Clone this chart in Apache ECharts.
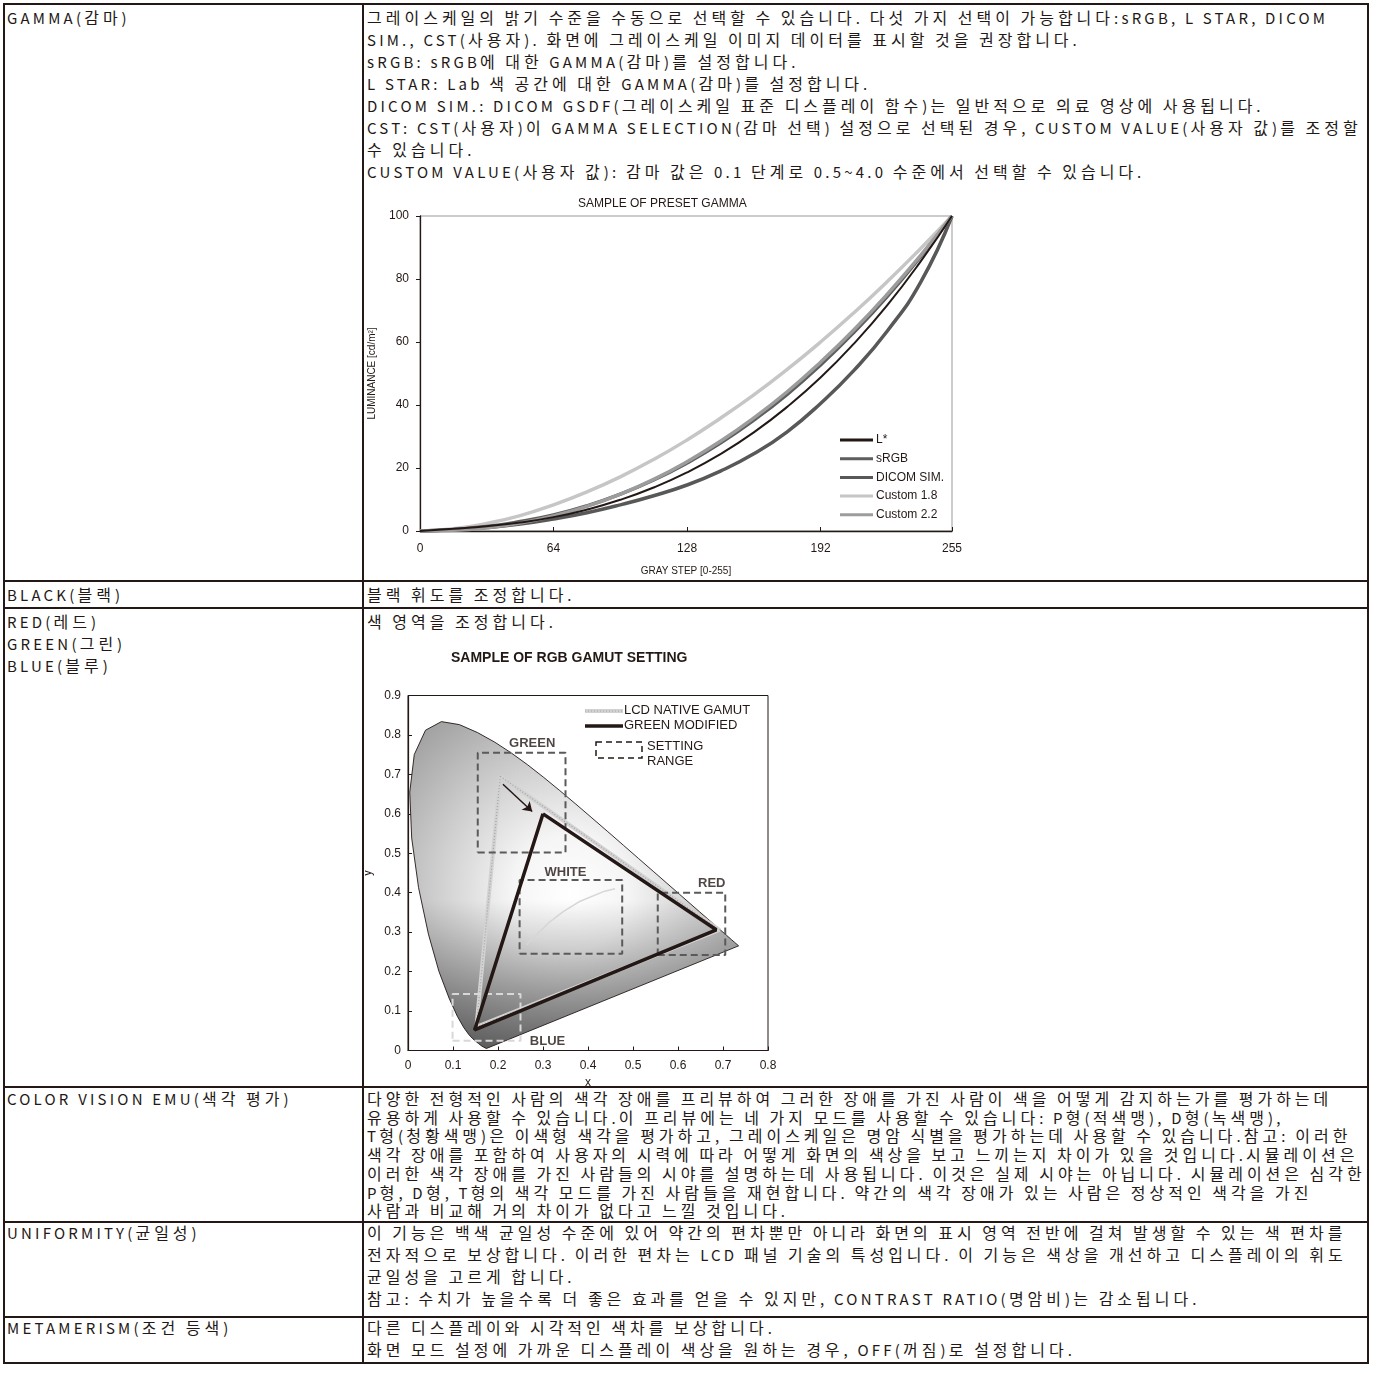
<!DOCTYPE html>
<html>
<head>
<meta charset="utf-8">
<script src="https://cdn.jsdelivr.net/npm/echarts@6/dist/echarts.min.js"></script>
<style>
  body { margin: 0; background: #fff; width: 1375px; height: 1390px; position: relative; overflow: hidden;
    font-family: "Noto Sans CJK KR", sans-serif; color: #231815; }
  .frame { position: absolute; left: 3px; top: 3px; width: 1366px; height: 1361px; border: 2px solid #231815; box-sizing: border-box; }
  .hline { position: absolute; left: 3px; width: 1366px; height: 2px; background: #231815; }
  .vline { position: absolute; left: 362px; top: 3px; width: 2px; height: 1361px; background: #231815; }
  .txt { position: absolute; font-size: 15px; letter-spacing: 3.2px; line-height: 22px; white-space: nowrap; }
  .txt .k { font-size: 16px; letter-spacing: 4.0px; line-height: 0; }
  .chart { position: absolute; }
</style>
</head>
<body>
<div class="frame"></div>
<div class="hline" style="top:580px"></div>
<div class="hline" style="top:607px"></div>
<div class="hline" style="top:1086px"></div>
<div class="hline" style="top:1221px"></div>
<div class="hline" style="top:1316px"></div>
<div class="vline"></div>

<div class="txt" style="left:7px;top:7px">GAMMA(감마)</div>
<div class="txt" style="left:367px;top:7px">그레이스케일의 밝기 수준을 수동으로 선택할 수 있습니다. 다섯 가지 선택이 가능합니다:sRGB, L STAR, DICOM<br>SIM., CST(사용자). 화면에 그레이스케일 이미지 데이터를 표시할 것을 권장합니다.<br>sRGB: sRGB에 대한 GAMMA(감마)를 설정합니다.<br>L STAR: Lab 색 공간에 대한 GAMMA(감마)를 설정합니다.<br>DICOM SIM.: DICOM GSDF(그레이스케일 표준 디스플레이 함수)는 일반적으로 의료 영상에 사용됩니다.<br>CST: CST(사용자)이 GAMMA SELECTION(감마 선택) 설정으로 선택된 경우, CUSTOM VALUE(사용자 값)를 조정할<br>수 있습니다.<br>CUSTOM VALUE(사용자 값): 감마 값은 0.1 단계로 0.5~4.0 수준에서 선택할 수 있습니다.</div>

<div class="txt" style="left:7px;top:584px">BLACK(블랙)</div>
<div class="txt" style="left:367px;top:584px">블랙 휘도를 조정합니다.</div>

<div class="txt" style="left:7px;top:611px">RED(레드)<br>GREEN(그린)<br>BLUE(블루)</div>
<div class="txt" style="left:367px;top:611px">색 영역을 조정합니다.</div>

<div class="txt" style="left:7px;top:1090px;line-height:18.7px">COLOR VISION EMU(색각 평가)</div>
<div class="txt" style="left:367px;top:1090px;line-height:18.7px">다양한 전형적인 사람의 색각 장애를 프리뷰하여 그러한 장애를 가진 사람이 색을 어떻게 감지하는가를 평가하는데<br>유용하게 사용할 수 있습니다.이 프리뷰에는 네 가지 모드를 사용할 수 있습니다: P형(적색맹), D형(녹색맹),<br>T형(청황색맹)은 이색형 색각을 평가하고, 그레이스케일은 명암 식별을 평가하는데 사용할 수 있습니다.참고: 이러한<br>색각 장애를 포함하여 사용자의 시력에 따라 어떻게 화면의 색상을 보고 느끼는지 차이가 있을 것입니다.시뮬레이션은<br>이러한 색각 장애를 가진 사람들의 시야를 설명하는데 사용됩니다. 이것은 실제 시야는 아닙니다. 시뮬레이션은 심각한<br>P형, D형, T형의 색각 모드를 가진 사람들을 재현합니다. 약간의 색각 장애가 있는 사람은 정상적인 색각을 가진<br>사람과 비교해 거의 차이가 없다고 느낄 것입니다.</div>

<div class="txt" style="left:7px;top:1222px">UNIFORMITY(균일성)</div>
<div class="txt" style="left:367px;top:1222px">이 기능은 백색 균일성 수준에 있어 약간의 편차뿐만 아니라 화면의 표시 영역 전반에 걸쳐 발생할 수 있는 색 편차를<br>전자적으로 보상합니다. 이러한 편차는 LCD 패널 기술의 특성입니다. 이 기능은 색상을 개선하고 디스플레이의 휘도<br>균일성을 고르게 합니다.<br>참고: 수치가 높을수록 더 좋은 효과를 얻을 수 있지만, CONTRAST RATIO(명암비)는 감소됩니다.</div>

<div class="txt" style="left:7px;top:1317px">METAMERISM(조건 등색)</div>
<div class="txt" style="left:367px;top:1317px">다른 디스플레이와 시각적인 색차를 보상합니다.<br>화면 모드 설정에 가까운 디스플레이 색상을 원하는 경우, OFF(꺼짐)로 설정합니다.</div>

<div id="gammaChart" class="chart" style="left:365px;top:188px;width:620px;height:390px"></div>
<div id="cieChart" class="chart" style="left:365px;top:640px;width:430px;height:450px"></div>

<script>
// Hangul runs get a wider tracking than the latin text
document.querySelectorAll('.txt').forEach(function (el) {
  el.innerHTML = el.innerHTML.replace(/([\uAC00-\uD7A3]+)/g, '<span class="k">$1</span>');
});

// ---- gamma curves ----
const grayStep = [0, 16, 32, 48, 64, 80, 96, 112, 128, 144, 160, 176, 192, 208, 224, 240, 255];
const grayTicks = [0, 64, 128, 192, 255];
const lStar = [0, 0.7, 1.5, 2.7, 4.4, 6.8, 9.9, 13.8, 18.6, 24.4, 31.3, 39.4, 48.7, 59.5, 71.7, 85.6, 100];
const sRGB = [0, 0.5, 1.4, 3.0, 5.1, 8.0, 11.7, 16.2, 21.6, 27.9, 35.2, 43.4, 52.7, 63.1, 74.5, 87.2, 100];
const dicomSim = [0, 0.4, 1.1, 2.2, 3.8, 5.8, 8.3, 11.2, 14.6, 19.0, 24.5, 31.5, 40.5, 51.0, 63.5, 79.0, 100];
const custom18 = [0, 0.7, 2.4, 4.9, 8.3, 12.4, 17.2, 22.7, 28.9, 35.8, 43.2, 51.3, 60.0, 69.3, 79.2, 89.7, 100];
const custom22 = [0, 0.2, 1.0, 2.5, 4.8, 7.8, 11.7, 16.4, 22.0, 28.5, 35.9, 44.2, 53.6, 63.9, 75.2, 87.5, 100];

// ---- CIE gamut chart ----
const spectralLocus = [
  [0.1741, 0.0050], [0.1644, 0.0109], [0.1566, 0.0177], [0.1440, 0.0297], [0.1355, 0.0399],
  [0.1241, 0.0578], [0.1096, 0.0868], [0.0913, 0.1327], [0.0687, 0.2007], [0.0454, 0.2950],
  [0.0235, 0.4127], [0.0082, 0.5384], [0.0039, 0.6548], [0.0139, 0.7502], [0.0389, 0.8120],
  [0.0743, 0.8338], [0.1142, 0.8262], [0.1547, 0.8059], [0.1929, 0.7816], [0.2296, 0.7543],
  [0.2658, 0.7243], [0.3016, 0.6923], [0.3373, 0.6589], [0.3731, 0.6245], [0.4087, 0.5896],
  [0.4441, 0.5547], [0.4788, 0.5202], [0.5125, 0.4866], [0.5448, 0.4544], [0.5752, 0.4242],
  [0.6029, 0.3965], [0.6270, 0.3725], [0.6482, 0.3514], [0.6658, 0.3340], [0.6915, 0.3083],
  [0.7079, 0.2920], [0.7190, 0.2809], [0.7260, 0.2740], [0.7347, 0.2653]
];
const nativeGamut = [[0.205, 0.695], [0.692, 0.306], [0.152, 0.060]];
const greenModified = [[0.300, 0.600], [0.685, 0.306], [0.148, 0.052]];
const greenArrow = [[0.211, 0.675], [0.276, 0.606]];
const planckCurve = [[0.263, 0.268], [0.281, 0.288], [0.313, 0.324], [0.345, 0.352], [0.380, 0.377], [0.437, 0.404], [0.46, 0.41]];
// [xmin, xmax, ymin, ymax]
const rangeGreen = [0.155, 0.350, 0.502, 0.755];
const rangeWhite = [0.248, 0.476, 0.245, 0.432];
const rangeRed = [0.555, 0.705, 0.242, 0.400];
const rangeBlue = [0.099, 0.250, 0.025, 0.143];
const regionNames = ['GREEN', 'WHITE', 'RED', 'BLUE'];
const regionPos = [[0.276, 0.779], [0.350, 0.451], [0.675, 0.424], [0.310, 0.024]];
const whiteSpot = [0.36, 0.40];

const ink = '#231815';
const latin = '"Liberation Sans", Arial, sans-serif';

const zipGray = arr => grayStep.map((g, i) => [g, arr[i]]);
const closeLoop = pts => pts.concat([pts[0]]);
const rectPath = r => [[r[0], r[2]], [r[1], r[2]], [r[1], r[3]], [r[0], r[3]], [r[0], r[2]]];

const gammaChart = echarts.init(document.getElementById('gammaChart'));
gammaChart.setOption({
  animation: false,
  textStyle: { fontFamily: latin },
  title: {
    text: 'SAMPLE OF PRESET GAMMA', left: 213, top: 10, padding: 0,
    textStyle: { fontSize: 12, fontWeight: 'normal', color: ink, fontFamily: latin }
  },
  grid: { left: 55, top: 28, width: 532, height: 315, show: true, borderColor: '#999', borderWidth: 1,
    outerBoundsMode: 'none', containLabel: false },
  legend: {
    orient: 'vertical', left: 475, top: 246, itemWidth: 33, itemHeight: 3, itemGap: 6.7,
    padding: 0, icon: 'rect',
    textStyle: { fontSize: 12, color: ink, fontFamily: latin, padding: [0, 0, 0, -2] },
    data: ['L*', 'sRGB', 'DICOM SIM.', 'Custom 1.8', 'Custom 2.2']
  },
  xAxis: {
    type: 'value', min: 0, max: 255,
    name: 'GRAY STEP [0-255]', nameLocation: 'middle', nameGap: 35,
    nameTextStyle: { fontSize: 10, color: ink },
    axisLine: { lineStyle: { color: ink, width: 1.3 } },
    axisTick: { inside: true, length: 4, customValues: grayTicks, lineStyle: { color: ink } },
    axisLabel: { customValues: grayTicks, fontSize: 12, color: ink, margin: 12 },
    splitLine: { show: false }
  },
  yAxis: {
    type: 'value', min: 0, max: 100, interval: 20,
    name: 'LUMINANCE [cd/m²]', nameLocation: 'middle', nameGap: 43,
    nameTextStyle: { fontSize: 10, color: ink },
    axisLine: { show: true, lineStyle: { color: ink, width: 1.3 } },
    axisTick: { show: true, inside: false, length: 4, lineStyle: { color: ink } },
    axisLabel: { fontSize: 12, color: ink, margin: 11 },
    splitLine: { show: false }
  },
  series: [
    { name: 'Custom 1.8', type: 'line', smooth: true, symbol: 'none', data: zipGray(custom18),
      lineStyle: { color: '#c6c6c6', width: 3.5 }, itemStyle: { color: '#c6c6c6' }, z: 2 },
    { name: 'DICOM SIM.', type: 'line', smooth: true, symbol: 'none', data: zipGray(dicomSim),
      lineStyle: { color: '#585858', width: 3.5 }, itemStyle: { color: '#585858' }, z: 3 },
    { name: 'sRGB', type: 'line', smooth: true, symbol: 'none', data: zipGray(sRGB),
      lineStyle: { color: '#5e5e5e', width: 3.5 }, itemStyle: { color: '#5e5e5e' }, z: 3 },
    { name: 'Custom 2.2', type: 'line', smooth: true, symbol: 'none', data: zipGray(custom22),
      lineStyle: { color: '#9c9c9c', width: 3.5 }, itemStyle: { color: '#9c9c9c' }, z: 4 },
    { name: 'L*', type: 'line', smooth: true, symbol: 'none', data: zipGray(lStar),
      lineStyle: { color: ink, width: 2 }, itemStyle: { color: ink }, z: 5 }
  ]
});

const cieChart = echarts.init(document.getElementById('cieChart'));
const lineSeries = (data, color, width, type, z) => ({
  type: 'line', data: data, symbol: 'none', silent: true, z: z,
  lineStyle: { color: color, width: width, type: type || 'solid' }
});
cieChart.setOption({
  animation: false,
  textStyle: { fontFamily: latin },
  title: {
    text: 'SAMPLE OF RGB GAMUT SETTING', left: 86, top: 11, padding: 0,
    textStyle: { fontSize: 14, fontWeight: 'bold', color: ink, fontFamily: latin }
  },
  grid: { left: 43, top: 55.5, width: 360, height: 355, show: true, borderColor: ink, borderWidth: 1,
    outerBoundsMode: 'none', containLabel: false },
  xAxis: {
    type: 'value', min: 0, max: 0.8, interval: 0.1,
    name: 'x', nameLocation: 'middle', nameGap: 22,
    nameTextStyle: { fontSize: 12, color: ink },
    axisLine: { lineStyle: { color: ink, width: 1.2 } },
    axisTick: { inside: true, length: 4, lineStyle: { color: ink } },
    axisLabel: { fontSize: 12, color: ink, margin: 9 },
    splitLine: { show: false }
  },
  yAxis: {
    type: 'value', min: 0, max: 0.9, interval: 0.1,
    name: 'y', nameLocation: 'middle', nameGap: 31,
    nameTextStyle: { fontSize: 12, color: ink },
    axisLine: { show: true, lineStyle: { color: ink, width: 1.2 } },
    axisTick: { show: true, inside: true, length: 4, lineStyle: { color: ink } },
    axisLabel: { fontSize: 12, color: ink, margin: 7 },
    splitLine: { show: false }
  },
  graphic: [
    { type: 'line', shape: { x1: 220, y1: 71, x2: 258, y2: 71 }, style: { stroke: '#d2d2d2', lineWidth: 4 } },
    { type: 'line', shape: { x1: 220, y1: 71, x2: 258, y2: 71 }, style: { stroke: '#a5a5a5', lineWidth: 1.2, lineDash: [1, 2] } },
    { type: 'text', left: 259, top: 64, style: { text: 'LCD NATIVE GAMUT', fontSize: 13, fill: ink, fontFamily: latin } },
    { type: 'line', shape: { x1: 220, y1: 86, x2: 258, y2: 86 }, style: { stroke: ink, lineWidth: 3.5 } },
    { type: 'text', left: 259, top: 79, style: { text: 'GREEN MODIFIED', fontSize: 13, fill: ink, fontFamily: latin } },
    { type: 'rect', shape: { x: 231, y: 102, width: 46, height: 16 }, style: { fill: 'none', stroke: ink, lineWidth: 1.5, lineDash: [6, 4] } },
    { type: 'text', left: 282, top: 100, style: { text: 'SETTING', fontSize: 13, fill: ink, fontFamily: latin } },
    { type: 'text', left: 282, top: 115, style: { text: 'RANGE', fontSize: 13, fill: ink, fontFamily: latin } }
  ],
  series: [
    {
      type: 'custom', silent: true, z: 1, data: [[0, 0]],
      renderItem: function (params, api) {
        const pts = spectralLocus.map(p => api.coord(p));
        const c = api.coord(whiteSpot);
        const yTop = api.coord([0, 0.38])[1];
        const yBot = api.coord([0, 0])[1];
        return {
          type: 'group',
          children: [
            { type: 'polygon', shape: { points: pts },
              style: { fill: { type: 'radial', x: c[0], y: c[1], r: 290, global: true,
                colorStops: [{ offset: 0, color: '#ffffff' }, { offset: 0.2, color: '#f5f5f5' },
                  { offset: 0.45, color: '#d0d0d0' }, { offset: 0.7, color: '#a9a9a9' }, { offset: 1, color: '#7c7c7c' }] } } },
            { type: 'polygon', shape: { points: pts },
              style: { fill: { type: 'linear', x: 0, y: yTop, x2: 0, y2: yBot, global: true,
                colorStops: [{ offset: 0, color: 'rgba(0,0,0,0)' }, { offset: 1, color: 'rgba(0,0,0,0.5)' }] },
                stroke: ink, lineWidth: 0.9 } }
          ]
        };
      }
    },
    lineSeries(planckCurve, '#d6d6d6', 1.5, 'solid', 2),
    lineSeries(closeLoop(nativeGamut), '#d2d2d2', 4, 'solid', 3),
    lineSeries(closeLoop(nativeGamut), '#a5a5a5', 1.2, [1, 2], 3),
    lineSeries(rectPath(rangeGreen), '#5a5a5a', 2, [7, 4], 4),
    lineSeries(rectPath(rangeWhite), '#5a5a5a', 2, [7, 4], 4),
    lineSeries(rectPath(rangeRed), '#5a5a5a', 2, [7, 4], 4),
    lineSeries(rectPath(rangeBlue), '#d8d8d8', 2, [7, 4], 4),
    lineSeries(closeLoop(greenModified), ink, 3.5, 'solid', 5),
    {
      type: 'lines', coordinateSystem: 'cartesian2d', silent: true, z: 6,
      symbol: ['none', 'arrow'], symbolSize: 9,
      lineStyle: { color: ink, width: 1.5, opacity: 1 },
      data: [{ coords: greenArrow }]
    },
    {
      type: 'scatter', silent: true, z: 7, symbolSize: 1,
      itemStyle: { color: 'rgba(0,0,0,0)' },
      label: { show: true, position: 'inside', formatter: '{b}', fontSize: 13, fontWeight: 'bold', color: ink, fontFamily: latin },
      data: regionNames.map((n, i) => ({ name: n, value: regionPos[i] }))
    }
  ]
});
</script>
</body>
</html>
